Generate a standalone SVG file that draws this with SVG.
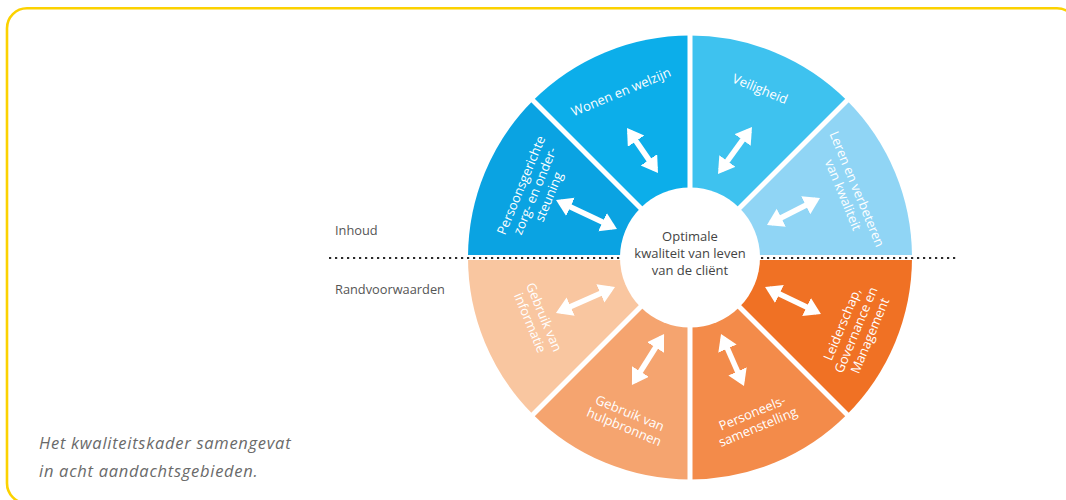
<svg xmlns="http://www.w3.org/2000/svg" width="1066" height="500" viewBox="0 0 1066 500">
<defs>
<style>
.seg{stroke:none}
.lbl{font-family:"Open Sans","Noto Sans",sans-serif;font-size:13px;fill:#ffffff;text-anchor:middle}
.ctr{font-family:"Open Sans","Noto Sans",sans-serif;font-size:13px;fill:#444444;text-anchor:middle}
.side{font-family:"Open Sans","Noto Sans",sans-serif;font-size:12.8px;fill:#555555}
.cap{font-family:"Open Sans","Noto Sans",sans-serif;font-size:16.5px;font-style:italic;fill:#6a6a6a;letter-spacing:0.72px}
.arr{stroke:#ffffff;stroke-width:5.5;fill:none;marker-start:url(#ah);marker-end:url(#ah)}
.sep{stroke:#ffffff;stroke-width:5}
</style>
<marker id="ah" markerWidth="17" markerHeight="21" refX="11.6" refY="10" orient="auto-start-reverse" markerUnits="userSpaceOnUse">
<path d="M0,0 L16,10 L0,20 Z" fill="#ffffff"/>
</marker>
</defs>
<rect x="0" y="0" width="1066" height="500" fill="#ffffff"/>
<rect x="7" y="8.3" width="1070" height="495" rx="20" ry="20" fill="none" stroke="#fcd200" stroke-width="2.6"/>

<g id="segments">
<g id="veiligheid"><path class="seg" fill="#3ec2ef" d="M690,257.5 L690,35.5 A222,222 0 0 1 846.98,100.52 Z"/></g>
<g id="leren"><path class="seg" fill="#90d5f5" d="M690,257.5 L846.98,100.52 A222,222 0 0 1 912,257.5 Z"/></g>
<g id="leiderschap"><path class="seg" fill="#f07124" d="M690,257.5 L912,257.5 A222,222 0 0 1 846.98,414.48 Z"/></g>
<g id="personeels"><path class="seg" fill="#f38b4a" d="M690,257.5 L846.98,414.48 A222,222 0 0 1 690,479.5 Z"/></g>
<g id="hulpbronnen"><path class="seg" fill="#f5a46f" d="M690,257.5 L690,479.5 A222,222 0 0 1 533.02,414.48 Z"/></g>
<g id="informatie"><path class="seg" fill="#f9c6a0" d="M690,257.5 L533.02,414.48 A222,222 0 0 1 468,257.5 Z"/></g>
<g id="persoonsgericht"><path class="seg" fill="#0aa3e2" d="M690,257.5 L468,257.5 A222,222 0 0 1 533.02,100.52 Z"/></g>
<g id="wonen"><path class="seg" fill="#0caeea" d="M690,257.5 L533.02,100.52 A222,222 0 0 1 690,35.5 Z"/></g>
</g>

<g id="separators">
<line class="sep" x1="690" y1="30" x2="690" y2="485"/>
<line class="sep" x1="530" y1="97.5" x2="850" y2="417.5"/>
<line class="sep" x1="850" y1="97.5" x2="530" y2="417.5"/>
<line class="sep" x1="462" y1="257.5" x2="918" y2="257.5" stroke-width="4.5"/>
</g>

<line id="divider" x1="329" y1="258" x2="956" y2="258" stroke="#2a2a2a" stroke-width="2.2" stroke-dasharray="2.2 3.8"/>

<g id="center">
<circle cx="690" cy="257.5" r="70" fill="#ffffff"/>
<text class="ctr" x="690" y="241">Optimale</text>
<text class="ctr" x="690" y="258">kwaliteit van leven</text>
<text class="ctr" x="690" y="275">van de cliënt</text>
</g>

<g id="connectors">
<line class="arr" x1="629.5" y1="131.6" x2="655.5" y2="169.4"/>
<line class="arr" x1="749.4" y1="130.6" x2="720.6" y2="170.4"/>
<line class="arr" x1="816.1" y1="200" x2="770.9" y2="223"/>
<line class="arr" x1="560" y1="201.9" x2="613" y2="227.1"/>
<line class="arr" x1="560" y1="311.2" x2="611" y2="288.8"/>
<line class="arr" x1="634.3" y1="381.3" x2="661.7" y2="337.7"/>
<line class="arr" x1="722.8" y1="338" x2="742.2" y2="382"/>
<line class="arr" x1="769" y1="288.9" x2="817" y2="312.1"/>
</g>

<g id="labels">
<g id="lbl-wonen" transform="translate(621,92) rotate(-22.5)"><text class="lbl" x="0" y="4.5">Wonen en welzijn</text></g>
<g id="lbl-veiligheid" transform="translate(760,89) rotate(22.5)"><text class="lbl" x="0" y="4.5">Veiligheid</text></g>
<g id="lbl-leren" transform="translate(850,192) rotate(67.5)"><text class="lbl" x="0" y="-3">Leren en verbeteren</text><text class="lbl" x="0" y="12">van kwaliteit</text></g>
<g id="lbl-persoon" transform="translate(535,191) rotate(-67.5)"><text class="lbl" x="0" y="-10.5">Persoonsgerichte</text><text class="lbl" x="0" y="4.5">zorg- en onder-</text><text class="lbl" x="0" y="19.5">steuning</text></g>
<g id="lbl-informatie" transform="translate(537,320) rotate(67.5)"><text class="lbl" x="0" y="-3">Gebruik van</text><text class="lbl" x="0" y="12">informatie</text></g>
<g id="lbl-hulp" transform="translate(627,420) rotate(22.5)"><text class="lbl" x="0" y="-3">Gebruik van</text><text class="lbl" x="0" y="12">hulpbronnen</text></g>
<g id="lbl-personeel" transform="translate(755,420) rotate(-22.5)"><text class="lbl" x="0" y="-3">Personeels-</text><text class="lbl" x="0" y="12">samenstelling</text></g>
<g id="lbl-leider" transform="translate(856,330) rotate(-67.5)"><text class="lbl" x="0" y="-10.5">Leiderschap,</text><text class="lbl" x="0" y="4.5">Governance en</text><text class="lbl" x="0" y="19.5">Management</text></g>
</g>

<g id="side-labels">
<text class="side" x="335" y="235">Inhoud</text>
<text class="side" x="335" y="294">Randvoorwaarden</text>
</g>

<g id="caption">
<text class="cap" x="39" y="449">Het kwaliteitskader samengevat</text>
<text class="cap" x="39" y="477">in acht aandachtsgebieden.</text>
</g>
</svg>
